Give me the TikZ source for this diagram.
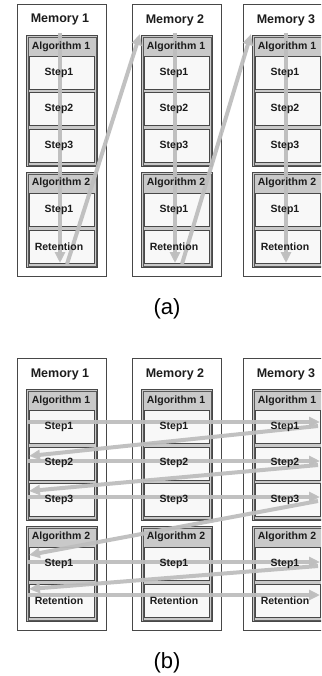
\documentclass[tikz,border=0pt]{standalone}
\usepackage{fontspec}
\setmainfont{Liberation Sans}
\usetikzlibrary{arrows.meta}
\definecolor{edge}{HTML}{484848}
\definecolor{algfill}{HTML}{C9C9C9}
\definecolor{stepfill}{HTML}{F8F8F8}
\definecolor{flow}{HTML}{BEBEBE}
\definecolor{ink}{HTML}{1C1C1C}
\begin{document}
\begin{tikzpicture}[x=1pt,y=-1pt,
  membox/.style={draw=edge,line width=0.9pt,fill=white,anchor=north west,inner sep=0pt,minimum width=89pt,minimum height=272pt},
  algbox/.style={draw=edge,line width=0.9pt,fill=algfill,anchor=north west,inner sep=0pt,minimum width=71pt,
    path picture={\draw[draw=gray!70!black,line width=0.5pt]
      ([shift={(1.6pt,-1.6pt)}]path picture bounding box.north west) rectangle
      ([shift={(-1.6pt,1.6pt)}]path picture bounding box.south east);}},
  stepbox/.style={draw=edge,line width=0.8pt,fill=stepfill,anchor=north west,inner sep=0pt,minimum width=65pt,minimum height=33pt},
  memlabel/.style={font=\bfseries\fontsize{12.5}{14}\selectfont,text=ink,inner sep=0pt},
  alglabel/.style={font=\bfseries\fontsize{10.5}{12}\selectfont,text=ink,inner sep=0pt},
  steplabel/.style={font=\bfseries\fontsize{10.5}{12}\selectfont,text=ink,inner sep=0pt},
  caplabel/.style={font=\fontsize{22}{26}\selectfont,text=black,inner sep=0pt},
  flowline/.style={draw=flow,line width=4pt,opacity=0.95,-{Triangle[length=11pt,width=10pt]}}
]
\useasboundingbox (0,0) rectangle (321,676);
\clip (0,0) rectangle (321,676);

% ---------- memory columns for (a) and (b): boxes ----------
\foreach \p/\dy in {a/0,b/354}{
  \foreach \i/\mx in {1/17,2/132,3/243}{
    \node[membox] (\p m\i) at (\mx,4+\dy) {};
    \node[algbox,minimum height=131pt] (\p ga\i) at (\mx+9,35+\dy) {};
    \node[stepbox] (\p s\i) at (\mx+12,56+\dy) {};
    \node[stepbox] (\p t\i) at (\mx+12,92.5+\dy) {};
    \node[stepbox] (\p u\i) at (\mx+12,129+\dy) {};
    \node[algbox,minimum height=95pt] (\p gb\i) at (\mx+9,172+\dy) {};
    \node[stepbox] (\p v\i) at (\mx+12,193+\dy) {};
    \node[stepbox] (\p w\i) at (\mx+12,230+\dy) {};
  }
}

% ---------- arrows of (a) ----------
\foreach \i/\mx in {1/17,2/132,3/243}{
  \coordinate (vt\i) at (\mx+43,33);
  \coordinate (vb\i) at (\mx+43,263);
  \coordinate (ds\i) at (\mx+50,264);
  \coordinate (de\i) at (\mx+8,34);
}
\foreach \i in {1,2,3}{\draw[flowline] (vt\i) -- (vb\i);}
\draw[flowline] (ds1) -- (de2);
\draw[flowline] (ds2) -- (de3);

% ---------- arrows of (b) ----------
\foreach \r/\y in {1/422,2/461,3/497,4/562,5/595}{
  \coordinate (fl\r) at (28,\y);
  \coordinate (fr\r) at (320,\y);
}
\coordinate (rs1) at (318,426); \coordinate (re1) at (29,456);
\coordinate (rs2) at (318,465); \coordinate (re2) at (29,491);
\coordinate (rs3) at (318,501); \coordinate (re3) at (29,555);
\coordinate (rs4) at (318,566); \coordinate (re4) at (29,589);
\foreach \r in {1,...,5}{\draw[flowline] (fl\r) -- (fr\r);}
\foreach \r in {1,...,4}{\draw[flowline] (rs\r) -- (re\r);}

% ---------- labels (on top) ----------
\foreach \p/\dy in {a/0,b/354}{
  \foreach \i/\mx in {1/17,2/132,3/243}{
    \node[memlabel] (\p ml\i) at (\mx+43,20+\dy) {Memory \i};
    \node[alglabel] (\p gal\i) at (\mx+44,47+\dy) {Algorithm 1};
    \node[steplabel] (\p sl\i) at (\mx+42,72.5+\dy) {Step1};
    \node[steplabel] (\p tl\i) at (\mx+42,109+\dy) {Step2};
    \node[steplabel] (\p ul\i) at (\mx+42,145.5+\dy) {Step3};
    \node[alglabel] (\p gbl\i) at (\mx+44,183+\dy) {Algorithm 2};
    \node[steplabel] (\p vl\i) at (\mx+42,209.5+\dy) {Step1};
    \node[steplabel] (\p wl\i) at (\mx+42,246.5+\dy) {Retention};
  }
}
\node[caplabel] (capa) at (167,309) {(a)};
\node[caplabel] (capb) at (167,663) {(b)};
\end{tikzpicture}
\end{document}
